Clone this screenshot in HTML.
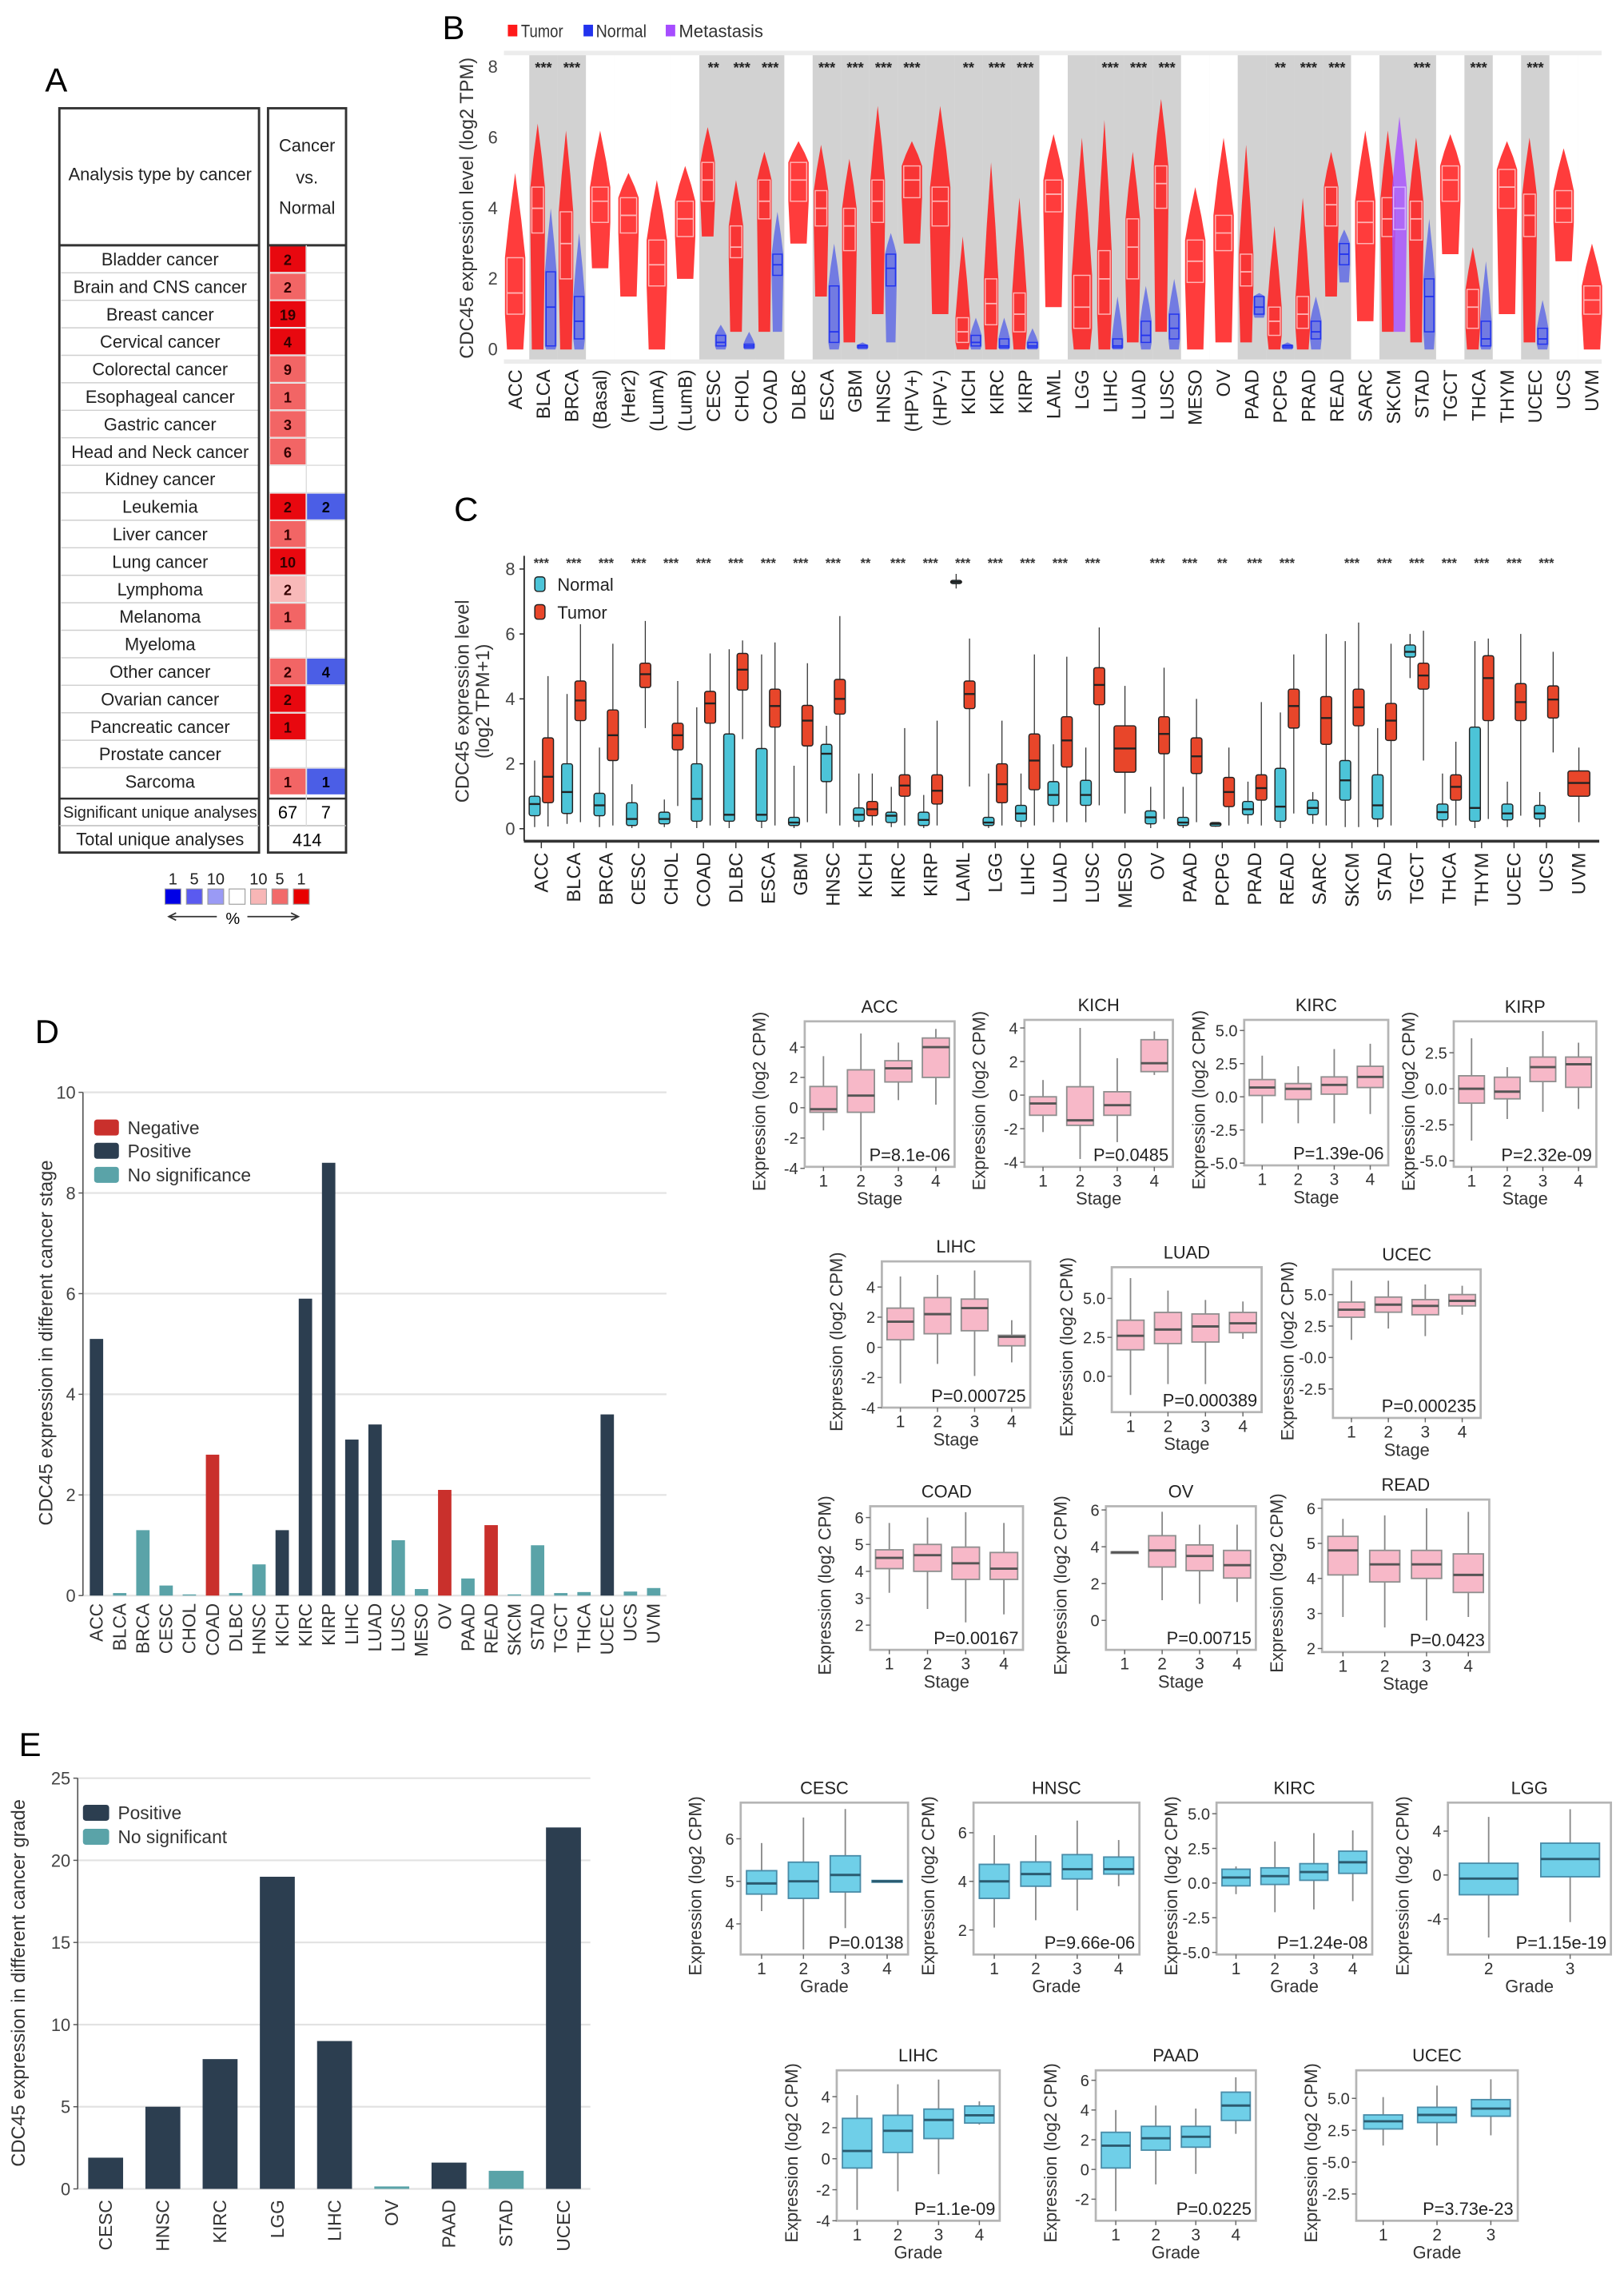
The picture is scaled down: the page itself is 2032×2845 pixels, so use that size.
<!DOCTYPE html>
<html><head><meta charset="utf-8">
<style>
html,body{margin:0;padding:0;background:#fff}
svg{display:block}
text{font-family:"Liberation Sans",Arial,sans-serif}
</style></head>
<body>
<svg id="fig" width="2032" height="2845" viewBox="0 0 1116 1563" preserveAspectRatio="none" xmlns="http://www.w3.org/2000/svg"></svg>
<script>
// ================= DATA =================
// Panel A
const aRows=["Bladder cancer","Brain and CNS cancer","Breast cancer","Cervical cancer","Colorectal cancer","Esophageal cancer","Gastric cancer","Head and Neck cancer","Kidney cancer","Leukemia","Liver cancer","Lung cancer","Lymphoma","Melanoma","Myeloma","Other cancer","Ovarian cancer","Pancreatic cancer","Prostate cancer","Sarcoma"];
const aUpCounts=[2,2,19,4,9,1,3,6,0,2,1,10,2,1,0,2,2,1,0,1];
const aUpShade=[3,2,3,3,2,2,2,2,0,3,2,3,1,2,0,2,3,3,0,2];
const aDownCounts=[0,0,0,0,0,0,0,0,0,2,0,0,0,0,0,4,0,0,0,1];
const aSigUp="67", aSigDown="7", aTotal="414";
const aLegendNums=["1","5","10","","10","5","1"];

// Panel B  [min,q1,med,q3,max]
const bCats=["ACC","BLCA","BRCA","(Basal)","(Her2)","(LumA)","(LumB)","CESC","CHOL","COAD","DLBC","ESCA","GBM","HNSC","(HPV+)","(HPV-)","KICH","KIRC","KIRP","LAML","LGG","LIHC","LUAD","LUSC","MESO","OV","PAAD","PCPG","PRAD","READ","SARC","SKCM","STAD","TGCT","THCA","THYM","UCEC","UCS","UVM"];
const bGrey=[0,1,1,0,0,0,0,1,1,1,0,1,1,1,1,1,1,1,1,0,1,1,1,1,0,0,1,1,1,1,0,1,1,0,1,0,1,0,0];
const bStars=["","***","***","","","","","**","***","***","","***","***","***","***","","**","***","***","","","***","***","***","","","","**","***","***","","","***","","***","","***","",""];
const bTumor=[[0,1.0,1.6,2.6,5.0],[0,3.3,4.0,4.6,6.4],[0,2.0,3.0,3.9,6.2],[2.3,3.6,4.2,4.6,6.2],[1.5,3.3,3.8,4.3,5.0],[0,1.8,2.4,3.1,4.8],[2.0,3.2,3.7,4.2,5.2],[3.2,4.2,4.8,5.3,6.3],[0.5,2.6,2.9,3.5,4.8],[0.5,3.7,4.2,4.8,5.6],[3.0,4.2,4.8,5.3,5.9],[1.5,3.5,4.0,4.5,5.8],[0.2,2.8,3.5,4.0,5.4],[1.0,3.6,4.2,4.8,6.9],[3.0,4.3,4.8,5.2,5.9],[1.0,3.5,4.2,4.6,6.9],[0,0.2,0.5,0.9,3.2],[0,0.7,1.3,2.0,5.3],[0,0.5,1.0,1.6,4.3],[1.2,3.9,4.4,4.8,6.1],[0,0.6,1.2,2.1,6.0],[0,1.0,2.0,2.8,6.5],[0.2,2.0,2.9,3.7,5.6],[0.5,4.0,4.7,5.2,7.1],[0,1.9,2.5,3.1,4.6],[0.2,2.8,3.3,3.8,6.0],[0.2,1.8,2.2,2.7,5.8],[0,0.4,0.8,1.2,3.5],[0,0.6,1.0,1.5,4.3],[1.5,3.5,4.1,4.6,5.6],[0.8,3.0,3.6,4.2,6.2],[0.5,3.2,3.7,4.3,6.2],[0.2,3.1,3.7,4.2,6.0],[2.7,4.2,4.8,5.2,6.1],[0,0.6,1.2,1.7,2.9],[1.0,4.0,4.6,5.1,5.9],[0.2,3.2,3.8,4.4,6.0],[2.5,3.6,4.0,4.5,5.7],[0,1.0,1.4,1.8,3.0]];
const bNormal=[null,[0,0.1,1.2,2.2,4.0],[0,0.3,0.8,1.5,3.3],null,null,null,null,[0,0.1,0.2,0.4,0.7],[0,0.05,0.1,0.15,0.5],[0.5,2.1,2.4,2.7,3.9],null,[0,0.2,0.5,1.8,3.0],[0,0.05,0.1,0.12,0.2],[0.2,1.8,2.3,2.7,3.3],null,null,[0,0.1,0.2,0.4,0.9],[0,0.05,0.1,0.3,0.9],[0,0.05,0.1,0.2,0.6],null,null,[0,0.05,0.1,0.3,1.5],[0,0.2,0.4,0.8,1.8],[0,0.3,0.6,1.0,2.0],null,null,[0.9,1.0,1.2,1.5,1.6],[0,0.05,0.1,0.12,0.2],[0,0.3,0.5,0.8,1.5],[1.9,2.4,2.7,3.0,3.4],null,null,[0,0.5,1.5,2.0,3.7],null,[0,0.1,0.3,0.8,2.5],null,[0,0.15,0.3,0.6,1.4],null,null];
const bMetCat="SKCM";
const bMetBox=[0.5,3.4,4.0,4.6,6.6];
const bTicks=[0,2,4,6,8];

// Panel C
const cCats=["ACC","BLCA","BRCA","CESC","CHOL","COAD","DLBC","ESCA","GBM","HNSC","KICH","KIRC","KIRP","LAML","LGG","LIHC","LUAD","LUSC","MESO","OV","PAAD","PCPG","PRAD","READ","SARC","SKCM","STAD","TGCT","THCA","THYM","UCEC","UCS","UVM"];
const cStars=["***","***","***","***","***","***","***","***","***","***","**","***","***","***","***","***","***","***","","***","***","**","***","***","","***","***","***","***","***","***","***",""];
const cTumor=[[0.07,0.8,1.6,2.8,4.7],[0.2,3.33,3.95,4.55,6.3],[0.1,2.1,2.88,3.66,5.7],[3.1,4.35,4.76,5.1,6.4],[0.7,2.43,2.88,3.25,4.55],[0.1,3.25,3.86,4.23,5.4],[2.76,4.27,4.9,5.4,5.8],[0.1,3.13,3.78,4.3,5.74],[0.2,2.55,3.33,3.8,5.1],[0.1,3.53,4.0,4.6,6.55],[0.1,0.4,0.6,0.84,1.7],[0.1,1.0,1.33,1.66,3.1],[0.1,0.76,1.17,1.66,3.33],[1.3,3.7,4.15,4.55,5.86],[0.1,0.8,1.37,2.0,3.33],[0.1,1.2,2.1,2.92,5.37],[0.2,1.9,2.72,3.45,5.3],[0.72,3.82,4.43,4.96,6.2],[0.47,1.74,2.47,3.17,4.4],[0.3,2.31,2.92,3.45,4.96],[0.2,1.7,2.23,2.8,4.0],[0.1,0.68,1.13,1.58,2.5],[0.1,0.88,1.25,1.66,3.9],[0.47,3.1,3.78,4.3,5.37],[0.1,2.6,3.41,4.07,6.0],[0.05,3.17,3.74,4.3,6.35],[0.1,2.72,3.33,3.86,5.7],[2.1,4.3,4.72,5.1,6.1],[0.1,0.88,1.29,1.66,2.68],[0.3,3.33,4.64,5.33,5.86],[0.4,3.33,3.9,4.47,6.0],[2.35,3.41,3.98,4.4,5.45],[0.2,1.0,1.41,1.78,2.5]];
const cNormal=[[0.05,0.4,0.76,1.0,2.1],[0.15,0.47,1.13,2.0,4.15],[0.05,0.4,0.72,1.09,2.5],[0.02,0.1,0.3,0.8,1.37],[0.05,0.15,0.3,0.51,0.9],[0.02,0.23,0.92,2.0,3.74],[0.02,0.23,0.43,2.92,5.53],[0.02,0.23,0.43,2.47,5.37],[0.02,0.1,0.19,0.35,1.94],[0.47,1.45,2.31,2.6,3.17],[0.05,0.23,0.43,0.64,1.7],[0.05,0.19,0.4,0.51,1.29],[0.02,0.1,0.27,0.51,1.04],[7.4,7.55,7.6,7.65,7.85],[0.02,0.1,0.19,0.35,1.7],[0.05,0.23,0.47,0.72,1.7],[0.2,0.72,1.04,1.45,2.6],[0.2,0.72,1.04,1.49,2.5],null,[0.02,0.15,0.35,0.55,1.29],[0.02,0.1,0.19,0.35,1.29],[0.06,0.08,0.15,0.19,0.2],[0.15,0.43,0.6,0.84,1.45],[0.02,0.23,0.68,1.86,3.58],[0.15,0.43,0.64,0.88,1.13],[0.05,0.88,1.49,2.1,5.78],[0.05,0.3,0.72,1.66,3.1],[4.64,5.29,5.45,5.66,6.0],[0.05,0.27,0.51,0.76,1.7],[0.02,0.23,0.64,3.13,5.78],[0.05,0.27,0.47,0.76,1.45],[0.05,0.3,0.47,0.72,1.13],null];
const cTicks=[0,2,4,6,8];

// Panel D bar
const dCats=["ACC","BLCA","BRCA","CESC","CHOL","COAD","DLBC","HNSC","KICH","KIRC","KIRP","LIHC","LUAD","LUSC","MESO","OV","PAAD","READ","SKCM","STAD","TGCT","THCA","UCEC","UCS","UVM"];
const dValues=[5.1,0.05,1.3,0.2,0.02,2.8,0.05,0.62,1.3,5.9,8.6,3.1,3.4,1.1,0.13,2.1,0.34,1.4,0.02,1.0,0.05,0.07,3.6,0.08,0.15];
const dTypes=["p","s","s","s","s","n","s","s","p","p","p","p","p","s","s","n","s","n","s","s","s","s","p","s","s"];
const dTicks=[0,2,4,6,8,10];

// Panel E bar
const eCats=["CESC","HNSC","KIRC","LGG","LIHC","OV","PAAD","STAD","UCEC"];
const eValues=[1.9,5.0,7.9,19.0,9.0,0.15,1.6,1.1,22.0];
const eTypes=["p","p","p","p","p","s","p","s","p"];
const eTicks=[0,5,10,15,20,25];

// Stage box plots [lo,q1,med,q3,hi]
const stageCats=["1","2","3","4"];
const dAccBoxes=[[-1.5,-0.3,-0.1,1.4,3.4],[-3.8,-0.3,0.8,2.5,4.9],[0.5,1.7,2.6,3.1,4.3],[0.2,2.0,4.0,4.6,5.2]];
const dKichBoxes=[[-2.2,-1.2,-0.5,-0.1,0.9],[-3.8,-1.8,-1.5,0.5,4.0],[-2.8,-1.2,-0.6,0.2,2.2],[1.2,1.4,1.9,3.3,3.8]];
const dKircBoxes=[[-2,0.1,0.7,1.3,3.1],[-2,-0.2,0.6,1.0,2.3],[-2,0.2,0.9,1.5,3.6],[-1.3,0.7,1.5,2.3,4.0]];
const dKirpBoxes=[[-3.6,-1.0,0,0.9,3.5],[-2.1,-0.7,-0.2,0.8,1.5],[-1.6,0.5,1.5,2.2,4.0],[-1.4,0.1,1.7,2.2,3.2]];
const dLihcBoxes=[[-2.4,0.5,1.7,2.6,4.7],[-1.1,0.9,2.2,3.3,4.8],[-1.9,1.1,2.6,3.2,5.1],[-1.0,0.1,0.7,0.8,1.8]];
const dLuadBoxes=[[-1.2,1.7,2.6,3.6,6.3],[-0.5,2.1,3.0,4.1,5.5],[-0.5,2.2,3.2,4.0,4.9],[2.4,2.8,3.4,4.1,4.8]];
const dUcecBoxes=[[1.4,3.2,3.8,4.4,6.1],[2.3,3.6,4.2,4.8,6.1],[1.7,3.4,4.1,4.6,5.8],[3.4,4.1,4.5,5.0,5.7]];
const dCoadBoxes=[[3.2,4.1,4.5,4.8,5.8],[2.6,4.0,4.6,5.0,6.0],[2.1,3.7,4.3,4.9,6.2],[2.4,3.7,4.1,4.7,5.8]];
const dOvBoxes=[[3.7,3.68,3.7,3.72,3.7],[1.1,2.9,3.8,4.6,5.9],[0.9,2.7,3.5,4.1,5.2],[1.0,2.3,3.0,3.8,5.2]];
const dReadBoxes=[[2.9,4.1,4.8,5.2,5.7],[2.6,3.9,4.4,4.8,5.8],[2.8,4.0,4.4,4.8,6.0],[2.9,3.6,4.1,4.7,5.9]];
// Grade box plots
const eCescBoxes=[[4.3,4.7,4.95,5.25,5.9],[3.4,4.6,5.0,5.45,6.5],[3.9,4.75,5.15,5.6,6.7],[5,4.98,5,5.02,5]];
const eHnscBoxes=[[2.1,3.3,4.0,4.7,5.9],[2.4,3.8,4.3,4.8,5.9],[2.8,4.1,4.5,5.1,6.5],[3.8,4.3,4.5,5.0,5.7]];
const eKircBoxes=[[-0.8,-0.2,0.4,1.0,1.2],[-2.1,-0.1,0.5,1.1,3.0],[-1.9,0.2,0.8,1.4,3.6],[-1.3,0.7,1.5,2.3,3.8]];
const eLggBoxes=[[-5.7,-1.8,-0.33,1.07,5.3],[-4.3,-0.16,1.46,2.9,6.0]];
const eLihcBoxes=[[-3.3,-0.6,0.5,2.6,4.1],[-2.1,0.4,1.8,2.8,4.8],[-1.0,1.3,2.5,3.2,5.1],[2.2,2.3,2.8,3.4,3.7]];
const ePaadBoxes=[[-2.8,0.1,1.6,2.5,4.0],[-1.0,1.3,2.1,2.9,4.3],[-0.3,1.5,2.2,2.9,4.1],[2.4,3.3,4.3,5.2,6.2]];
const eUcecBoxes=[[1.3,2.6,3.2,3.7,5.1],[1.3,3.1,3.7,4.3,6.0],[2.1,3.6,4.2,4.9,6.5]];

// ================= HELPERS =================
const NS='http://www.w3.org/2000/svg';
const svg=document.getElementById('fig');
function mk(tag,attrs,parent){const e=document.createElementNS(NS,tag);for(const k in attrs)e.setAttribute(k,attrs[k]);(parent||svg).appendChild(e);return e;}
function tx(str,attrs,parent){const e=mk('text',attrs,parent);e.textContent=str;return e;}
function group(parent){return mk('g',{},parent);}

// panel letters
[["A",31,63],["B",304,27],["C",312,358],["D",24,717],["E",13,1207]].forEach(p=>{
  const t=tx(p[0],{x:p[1],y:p[2],'font-size':23});
  
  
});

// ================= PANEL A =================
(function(){
  const g=group();
  
  
  const rowH=18.9, rowTop=168.6;
  const shadeCol=["#ffffff","#f8b9b9","#f26565","#e8080f"];
  aRows.forEach((name,i)=>{
    const y=rowTop+i*rowH;
    if(i>0){
      const l1=mk('line',{x1:42,x2:178,y1:y,y2:y,stroke:'#cfcfcf','stroke-width':0.8},g);
      
      
      const l2=mk('line',{x1:185,x2:237,y1:y,y2:y,stroke:'#dddddd','stroke-width':0.8},g);
      
      
    }
    const t=tx(name,{x:110,y:y+13.8,'font-size':12,'text-anchor':'middle',fill:'#222'},g);
    
    
    if(aUpCounts[i]>0){
      const r=mk('rect',{x:185.5,y:y+0.6,width:24.5,height:rowH-1.2,fill:shadeCol[aUpShade[i]]},g);
      
      
      const c=tx(String(aUpCounts[i]),{x:197.7,y:y+13.5,'font-size':10,'font-weight':'bold','text-anchor':'middle',fill:'#300'},g);
      
      
    }
    if(aDownCounts[i]>0){
      const r=mk('rect',{x:211,y:y+0.6,width:26,height:rowH-1.2,fill:'#4b5ee6'},g);
      
      
      const c=tx(String(aDownCounts[i]),{x:224,y:y+13.5,'font-size':10,'font-weight':'bold','text-anchor':'middle',fill:'#001'},g);
      
      
    }
  });
  const boxes=[[40.8,74.4,137.2,511.6],[184.2,74.4,53.6,511.6]];
  boxes.forEach(b=>{
    const r=mk('rect',{x:b[0],y:b[1],width:b[2],height:b[3],fill:'none',stroke:'#333','stroke-width':1.6},g);
    
    
    const h=mk('line',{x1:b[0],x2:b[0]+b[2],y1:168.6,y2:168.6,stroke:'#333','stroke-width':1.6},g);
    
    
    const s=mk('line',{x1:b[0],x2:b[0]+b[2],y1:548.9,y2:548.9,stroke:'#333','stroke-width':1.4},g);
    
    
    const s2=mk('line',{x1:b[0],x2:b[0]+b[2],y1:567.5,y2:567.5,stroke:'#bbb','stroke-width':0.8},g);
    
    
  });
  const v=mk('line',{x1:210.5,x2:210.5,y1:168.6,y2:567.5,stroke:'#ddd','stroke-width':0.8},g);
  
  
  const hd=tx("Analysis type by cancer",{x:110,y:124,'font-size':12,'text-anchor':'middle',fill:'#222'},g);
  
  
  [["Cancer",104],["vs.",126],["Normal",147]].forEach(p=>{
    const t=tx(p[0],{x:211,y:p[1],'font-size':12,'text-anchor':'middle',fill:'#222'},g);
    
    
  });
  const s1=tx("Significant unique analyses",{x:110,y:562,'font-size':11,'text-anchor':'middle',fill:'#222'},g);
  
  
  const s2=tx("Total unique analyses",{x:110,y:581,'font-size':12,'text-anchor':'middle',fill:'#222'},g);
  
  
  const v1=tx(aSigUp,{x:197.7,y:562.5,'font-size':12,'text-anchor':'middle'},g);
  
  
  const v2=tx(aSigDown,{x:224,y:562.5,'font-size':12,'text-anchor':'middle'},g);
  
  
  const v3=tx(aTotal,{x:211,y:581.5,'font-size':12,'text-anchor':'middle'},g);
  
  
  const lg=group(g);
  
  
  const legCols=["#0000e6","#5a5af0","#9a9af5","#ffffff","#f7b6b6","#f26a6a","#e80000"];
  legCols.forEach((c,k)=>{
    const x=113.4+k*14.7;
    const r=mk('rect',{x:x,y:611,width:10.9,height:10.5,fill:c,stroke:'#999','stroke-width':0.6},lg);
    
    
    if(aLegendNums[k]){
      const t=tx(aLegendNums[k],{x:x+5.4,y:608,'font-size':11,'text-anchor':'middle',fill:'#222'},lg);
      
      
    }
  });
  const a1=mk('path',{d:'M149 630 L117 630 M121 627.5 L116 630 L121 632.5',stroke:'#333','stroke-width':1,fill:'none'},lg);
  
  
  const a2=mk('path',{d:'M170 630 L205 630 M200 627.5 L205 630 L200 632.5',stroke:'#333','stroke-width':1,fill:'none'},lg);
  
  
  const pc=tx("%",{x:160,y:635,'font-size':11,'text-anchor':'middle'},lg);
  
  
})();

// ================= PANEL B =================
(function(){
  const g=group();
  
  
  const left=346.3,right=1100.6,top=34.9,bottom=250;
  const ys=v=>240.2-24.26*v;
  const x0=354, step=(1094-354)/(bCats.length-1);
  const bg=mk('rect',{x:left,y:top,width:right-left,height:bottom-top,fill:'#ececec'},g);
  
  
  bCats.forEach((c,i)=>{
    const cx=x0+i*step;
    const band=mk('rect',{x:cx-step/2,y:38,width:step,height:209,fill:bGrey[i]?'#d2d2d2':'#ffffff'},g);
    
    
  });
  bTicks.forEach(v=>{
    const t=tx(String(v),{x:342,y:ys(v)+4,'font-size':12,'text-anchor':'end',fill:'#444'},g);
    
    
  });
  function cloud(cx,w,b,fill,op,boxStroke,name){
    const upper=ys(b[3]+(b[4]-b[3])*0.45), lower=ys(b[1]-(b[1]-b[0])*0.5);
    const pts=[[cx,ys(b[4])],[cx+w*0.3,upper],[cx+w/2,ys(b[3])],[cx+w/2,ys(b[1])],[cx+w*0.45,lower],[cx+w*0.4,ys(b[0])],[cx-w*0.4,ys(b[0])],[cx-w*0.45,lower],[cx-w/2,ys(b[1])],[cx-w/2,ys(b[3])],[cx-w*0.3,upper]].map(p=>p.join(',')).join(' ');
    const p=mk('polygon',{points:pts,fill:fill,opacity:op},g);
    
    
    const r=mk('rect',{x:cx-w*0.4,y:ys(b[3]),width:w*0.8,height:Math.max(ys(b[1])-ys(b[3]),0.8),fill:'none',stroke:boxStroke,'stroke-width':0.8},g);
    
    
    const m=mk('line',{x1:cx-w*0.4,x2:cx+w*0.4,y1:ys(b[2]),y2:ys(b[2]),stroke:boxStroke,'stroke-width':1},g);
    
    
  }
  bCats.forEach((c,i)=>{
    const cx=x0+i*step;
    const n=bNormal[i];
    const isMet=(c===bMetCat);
    const tcx=(n||isMet)?cx-4:cx;
    cloud(tcx,(n||isMet)?10:14,bTumor[i],'#ff1a1a',0.85,'#ffb3b3','tumor-'+c);
    if(n){cloud(cx+5,8,n,'#2233ee',0.55,'#2233ee','normal-'+c);}
    if(isMet){cloud(cx+4,10,bMetBox,'#a64dff',0.8,'#d9b3ff','metastasis-'+c);}
    if(bStars[i]){
      const s=tx(bStars[i],{x:cx,y:50,'font-size':10,'font-weight':'bold','text-anchor':'middle',fill:'#222'},g);
      
      
    }
    const lab=tx(c,{x:cx+4.5,y:254,'font-size':13,'text-anchor':'end',fill:'#222',transform:`rotate(-90 ${cx+4.5} 254)`},g);
    
    
  });
  const yt=tx("CDC45 expression level (log2 TPM)",{x:325,y:143,'font-size':13,'text-anchor':'middle',fill:'#333',transform:'rotate(-90 325 143)'},g);
  
  
  [["#ff1a1a","Tumor",349,358],["#2233ee","Normal",401,409.5],["#a64dff","Metastasis",457.5,466.5]].forEach(l=>{
    const r=mk('rect',{x:l[2],y:17,width:6.5,height:8,fill:l[0]},g);
    
    
    const t=tx(l[1],{x:l[3],y:25.5,'font-size':12,fill:'#333',textLength:l[1].length*5.8,lengthAdjust:'spacingAndGlyphs'},g);
    
    
  });
})();

// ================= PANEL C =================
(function(){
  const g=group();
  
  
  const ys=v=>569.6-22.31*v;
  const x0=372, step=(1085-372)/(cCats.length-1);
  const ax=mk('line',{x1:360.2,x2:360.2,y1:382,y2:578,stroke:'#222','stroke-width':1},g);
  
  
  const bx=mk('line',{x1:360,x2:1099,y1:578.2,y2:578.2,stroke:'#333','stroke-width':2},g);
  
  
  cTicks.forEach(v=>{
    const tk=mk('line',{x1:357,x2:360.2,y1:ys(v),y2:ys(v),stroke:'#222','stroke-width':0.8},g);
    
    
    const t=tx(String(v),{x:354,y:ys(v)+4.2,'font-size':12,'text-anchor':'end',fill:'#444'},g);
    
    
  });
  function box(cx,w,b,fill,name){
    const wl=mk('line',{x1:cx,x2:cx,y1:ys(b[0]),y2:ys(b[4]),stroke:'#333','stroke-width':0.7},g);
    
    
    const r=mk('rect',{x:cx-w/2,y:ys(b[3]),width:w,height:Math.max(ys(b[1])-ys(b[3]),1.2),rx:1.5,fill:fill,stroke:'#222','stroke-width':0.8},g);
    
    
    const m=mk('line',{x1:cx-w/2,x2:cx+w/2,y1:ys(b[2]),y2:ys(b[2]),stroke:'#222','stroke-width':1.3},g);
    
    
  }
  cCats.forEach((c,i)=>{
    const cx=x0+i*step;
    const n=cNormal[i];
    if(n){
      box(cx-4.6,7.5,n,'#4cc4d8','normal-'+c);
      box(cx+4.6,7.5,cTumor[i],'#e8462a','tumor-'+c);
    } else {
      box(cx,15,cTumor[i],'#e8462a','tumor-'+c);
    }
    if(cStars[i]){
      const s=tx(cStars[i],{x:cx,y:390,'font-size':9,'font-weight':'bold','text-anchor':'middle',fill:'#333'},g);
      
      
    }
    const tk=mk('line',{x1:cx,x2:cx,y1:579,y2:583,stroke:'#333','stroke-width':0.8},g);
    
    
    const lab=tx(c,{x:cx+4.5,y:586,'font-size':13,'text-anchor':'end',fill:'#222',transform:`rotate(-90 ${cx+4.5} 586)`},g);
    
    
  });
  const y1=tx("CDC45 expression level",{x:322,y:482,'font-size':13,'text-anchor':'middle',fill:'#333',transform:'rotate(-90 322 482)'},g);
  
  
  const y2=tx("(log2 TPM+1)",{x:336,y:482,'font-size':13,'text-anchor':'middle',fill:'#333',transform:'rotate(-90 336 482)'},g);
  
  
  [["#4cc4d8","Normal",401.5],["#e8462a","Tumor",420.6]].forEach(l=>{
    const r=mk('rect',{x:367.5,y:l[2]-5,width:7,height:10,rx:2,fill:l[0],stroke:'#222','stroke-width':0.8},g);
    
    
    const t=tx(l[1],{x:383,y:l[2]+4.5,'font-size':12,fill:'#222'},g);
    
    
  });
})();

// ================= BAR CHARTS =================
function barChart(cfg){
  const g=group();
  
  
  const ys=v=>cfg.y0-(cfg.y0-cfg.yTop)*v/cfg.vTop;
  const step=(cfg.xLast-cfg.xFirst)/(cfg.cats.length-1);
  cfg.ticks.forEach(v=>{
    const gl=mk('line',{x1:cfg.axisX,x2:cfg.gridRight,y1:ys(v),y2:ys(v),stroke:'#e2e2e2','stroke-width':1.2},g);
    
    
    const tk=mk('line',{x1:cfg.axisX-3,x2:cfg.axisX,y1:ys(v),y2:ys(v),stroke:'#555','stroke-width':0.8},g);
    
    
    const t=tx(String(v),{x:cfg.axisX-5,y:ys(v)+4.3,'font-size':12,'text-anchor':'end',fill:'#444'},g);
    
    
  });
  const ax=mk('line',{x1:cfg.axisX,x2:cfg.axisX,y1:cfg.yTop,y2:cfg.y0,stroke:'#555','stroke-width':0.9},g);
  
  
  cfg.cats.forEach((c,i)=>{
    const cx=cfg.xFirst+i*step;
    const v=cfg.values[i];
    const h=Math.max(cfg.y0-ys(v),0.8);
    const r=mk('rect',{x:cx-cfg.barW/2,y:cfg.y0-h,width:cfg.barW,height:h,fill:cfg.colors[cfg.types[i]]},g);
    
    
    const lab=tx(c,{x:cx+4.3,y:cfg.labY,'font-size':cfg.labFs,'text-anchor':'end',fill:'#333',transform:`rotate(-90 ${cx+4.3} ${cfg.labY})`},g);
    
    
  });
  const yt=tx(cfg.yTitle,{x:cfg.yTitleX,y:cfg.yTitleY,'font-size':13,'text-anchor':'middle',fill:'#333',transform:`rotate(-90 ${cfg.yTitleX} ${cfg.yTitleY})`},g);
  
  
  cfg.legend.forEach(l=>{
    const r=mk('rect',{x:cfg.legX,y:l[2]-5.5,width:cfg.legW,height:11,rx:2,fill:l[0]},g);
    
    
    const t=tx(l[1],{x:cfg.legX+cfg.legW+6,y:l[2]+4.5,'font-size':12.5,fill:'#333'},g);
    
    
  });
}
const cNeg="#c9302c", cPos="#2c3e50", cNs="#5aa3a8";
barChart({name:'panel-d-stage-bar-chart',cats:dCats,values:dValues,types:dTypes,ticks:dTicks,
  colors:{n:cNeg,p:cPos,s:cNs},y0:1096.7,yTop:750.8,vTop:10,xFirst:66.3,xLast:449.2,barW:9.2,axisX:57,gridRight:458,
  labY:1102,labFs:12.5,yTitle:"CDC45 expression in different cancer stage",yTitleX:36,yTitleY:923,
  legX:64.7,legW:17,legend:[[cNeg,"Negative",775],[cPos,"Positive",791],[cNs,"No significance",807.5]]});
barChart({name:'panel-e-grade-bar-chart',cats:eCats,values:eValues,types:eTypes,ticks:eTicks,
  colors:{p:cPos,s:cNs},y0:1504.5,yTop:1222.2,vTop:25,xFirst:72.6,xLast:387.2,barW:24,axisX:53.4,gridRight:405.7,
  labY:1512,labFs:12.5,yTitle:"CDC45 expression in different cancer grade",yTitleX:17,yTitleY:1363,
  legX:57,legW:18,legend:[[cPos,"Positive",1246],[cNs,"No significant",1262.5]]});

// ================= SMALL MULTIPLES =================
function smallBox(cfg){
  const g=group();
  
  
  const [fx0,fy0,fx1,fy1]=cfg.frame;
  const ys=v=>fy0+(cfg.top-v)/(cfg.top-cfg.bottom)*(fy1-fy0);
  const fr=mk('rect',{x:fx0,y:fy0,width:fx1-fx0,height:fy1-fy0,fill:'#fff',stroke:'#b5b5b5','stroke-width':1.5},g);
  
  
  const n=cfg.cats.length, slot=(fx1-fx0)/n, bw=slot*0.72;
  cfg.ticks.forEach((v,k)=>{
    const tk=mk('line',{x1:fx0-3,x2:fx0,y1:ys(v),y2:ys(v),stroke:'#666','stroke-width':0.8},g);
    
    
    const t=tx(cfg.tickLabels[k],{x:fx0-4.5,y:ys(v)+4,'font-size':11,'text-anchor':'end',fill:'#333'},g);
    
    
  });
  cfg.boxes.forEach((b,i)=>{
    const cx=fx0+slot*(i+0.5);
    const wl=mk('line',{x1:cx,x2:cx,y1:ys(b[0]),y2:ys(b[4]),stroke:'#888','stroke-width':1},g);
    
    
    const r=mk('rect',{x:cx-bw/2,y:ys(b[3]),width:bw,height:Math.max(ys(b[1])-ys(b[3]),1),fill:cfg.fill,stroke:cfg.stroke,'stroke-width':1},g);
    
    
    const m=mk('line',{x1:cx-bw/2,x2:cx+bw/2,y1:ys(b[2]),y2:ys(b[2]),stroke:cfg.med,'stroke-width':1.6},g);
    
    
    const tk=mk('line',{x1:cx,x2:cx,y1:fy1,y2:fy1+3,stroke:'#666','stroke-width':0.8},g);
    
    
    const cl=tx(cfg.cats[i],{x:cx,y:fy1+13.5,'font-size':11.5,'text-anchor':'middle',fill:'#333'},g);
    
    
  });
  const ti=tx(cfg.title,{x:(fx0+fx1)/2,y:fy0-6,'font-size':12,'text-anchor':'middle',fill:'#222'},g);
  
  
  const p=tx(cfg.p,{x:fx1-3,y:fy1-4,'font-size':12,'text-anchor':'end',fill:'#222'},g);
  
  
  const xl=tx(cfg.xlab,{x:(fx0+fx1)/2,y:fy1+26,'font-size':12,'text-anchor':'middle',fill:'#333'},g);
  
  
  const yx=fx0-27, yy=(fy0+fy1)/2+5;
  const yl=tx("Expression (log2 CPM)",{x:yx,y:yy,'font-size':12,'text-anchor':'middle',fill:'#333',transform:`rotate(-90 ${yx} ${yy})`},g);
  
  
}
const pinkF="#f7b8c8", pinkS="#8f8f8f", pinkM="#555";
const blueF="#6fcfe8", blueS="#4a8ca8", blueM="#2b5b70";
const t4=[4,2,0,-2,-4], t4L=["4","2","0","-2","-4"];
const t5=[5,2.5,0,-2.5,-5], t5L=["5.0","2.5","0.0","-2.5","-5.0"];
smallBox({name:'stage-acc',frame:[553,702,656,802],top:5.7,bottom:-3.9,ticks:t4,tickLabels:t4L,cats:stageCats,boxes:dAccBoxes,title:"ACC",p:"P=8.1e-06",xlab:"Stage",fill:pinkF,stroke:pinkS,med:pinkM});
smallBox({name:'stage-kich',frame:[704,701,806,802],top:4.48,bottom:-4.27,ticks:t4,tickLabels:t4L,cats:stageCats,boxes:dKichBoxes,title:"KICH",p:"P=0.0485",xlab:"Stage",fill:pinkF,stroke:pinkS,med:pinkM});
smallBox({name:'stage-kirc',frame:[855,701,954,801],top:5.8,bottom:-5.17,ticks:t5,tickLabels:t5L,cats:stageCats,boxes:dKircBoxes,title:"KIRC",p:"P=1.39e-06",xlab:"Stage",fill:pinkF,stroke:pinkS,med:pinkM});
smallBox({name:'stage-kirp',frame:[999,702,1097,802],top:4.68,bottom:-5.42,ticks:[2.5,0,-2.5,-5],tickLabels:["2.5","0.0","-2.5","-5.0"],cats:stageCats,boxes:dKirpBoxes,title:"KIRP",p:"P=2.32e-09",xlab:"Stage",fill:pinkF,stroke:pinkS,med:pinkM});
smallBox({name:'stage-lihc',frame:[606,867,708,967.5],top:5.7,bottom:-4.0,ticks:t4,tickLabels:t4L,cats:stageCats,boxes:dLihcBoxes,title:"LIHC",p:"P=0.000725",xlab:"Stage",fill:pinkF,stroke:pinkS,med:pinkM});
smallBox({name:'stage-luad',frame:[764,871,867,970.6],top:7.0,bottom:-2.3,ticks:[5,2.5,0],tickLabels:["5.0","2.5","0.0"],cats:stageCats,boxes:dLuadBoxes,title:"LUAD",p:"P=0.000389",xlab:"Stage",fill:pinkF,stroke:pinkS,med:pinkM});
smallBox({name:'stage-ucec',frame:[916,872.5,1017.5,974.6],top:7.0,bottom:-4.8,ticks:[5,2.5,0,-2.5],tickLabels:["5.0","2.5","-0.0","-2.5"],cats:stageCats,boxes:dUcecBoxes,title:"UCEC",p:"P=0.000235",xlab:"Stage",fill:pinkF,stroke:pinkS,med:pinkM});
smallBox({name:'stage-coad',frame:[598,1035.3,703,1134],top:6.42,bottom:1.08,ticks:[6,5,4,3,2],tickLabels:["6","5","4","3","2"],cats:stageCats,boxes:dCoadBoxes,title:"COAD",p:"P=0.00167",xlab:"Stage",fill:pinkF,stroke:pinkS,med:pinkM});
smallBox({name:'stage-ov',frame:[760,1035.3,863,1134],top:6.2,bottom:-1.6,ticks:[6,4,2,0],tickLabels:["6","4","2","0"],cats:stageCats,boxes:dOvBoxes,title:"OV",p:"P=0.00715",xlab:"Stage",fill:pinkF,stroke:pinkS,med:pinkM});
smallBox({name:'stage-read',frame:[908.5,1030.7,1023.4,1135.5],top:6.25,bottom:1.9,ticks:[6,5,4,3,2],tickLabels:["6","5","4","3","2"],cats:stageCats,boxes:dReadBoxes,title:"READ",p:"P=0.0423",xlab:"Stage",fill:pinkF,stroke:pinkS,med:pinkM});

smallBox({name:'grade-cesc',frame:[509,1239,624,1343.4],top:6.85,bottom:3.28,ticks:[6,5,4],tickLabels:["6","5","4"],cats:["1","2","3","4"],boxes:eCescBoxes,title:"CESC",p:"P=0.0138",xlab:"Grade",fill:blueF,stroke:blueS,med:blueM});
smallBox({name:'grade-hnsc',frame:[669,1239,783,1343.4],top:7.24,bottom:0.99,ticks:[6,4,2],tickLabels:["6","4","2"],cats:["1","2","3","4"],boxes:eHnscBoxes,title:"HNSC",p:"P=9.66e-06",xlab:"Grade",fill:blueF,stroke:blueS,med:blueM});
smallBox({name:'grade-kirc',frame:[836,1239,943,1343.4],top:5.8,bottom:-5.15,ticks:t5,tickLabels:t5L,cats:["1","2","3","4"],boxes:eKircBoxes,title:"KIRC",p:"P=1.24e-08",xlab:"Grade",fill:blueF,stroke:blueS,med:blueM});
smallBox({name:'grade-lgg',frame:[995,1239,1107,1343.4],top:6.6,bottom:-7.25,ticks:[4,0,-4],tickLabels:["4","0","-4"],cats:["2","3"],boxes:eLggBoxes,title:"LGG",p:"P=1.15e-19",xlab:"Grade",fill:blueF,stroke:blueS,med:blueM});
smallBox({name:'grade-lihc',frame:[575,1423,687,1526.4],top:5.7,bottom:-4,ticks:t4,tickLabels:t4L,cats:["1","2","3","4"],boxes:eLihcBoxes,title:"LIHC",p:"P=1.1e-09",xlab:"Grade",fill:blueF,stroke:blueS,med:blueM});
smallBox({name:'grade-paad',frame:[753,1423,863,1526.4],top:6.67,bottom:-3.45,ticks:[6,4,2,0,-2],tickLabels:["6","4","2","0","-2"],cats:["1","2","3","4"],boxes:ePaadBoxes,title:"PAAD",p:"P=0.0225",xlab:"Grade",fill:blueF,stroke:blueS,med:blueM});
smallBox({name:'grade-ucec',frame:[932,1423,1043,1526.4],top:7.2,bottom:-4.6,ticks:[5,2.5,0,-2.5],tickLabels:["5.0","2.5","-5.0","-2.5"],cats:["1","2","3"],boxes:eUcecBoxes,title:"UCEC",p:"P=3.73e-23",xlab:"Grade",fill:blueF,stroke:blueS,med:blueM});
</script>
</body></html>
